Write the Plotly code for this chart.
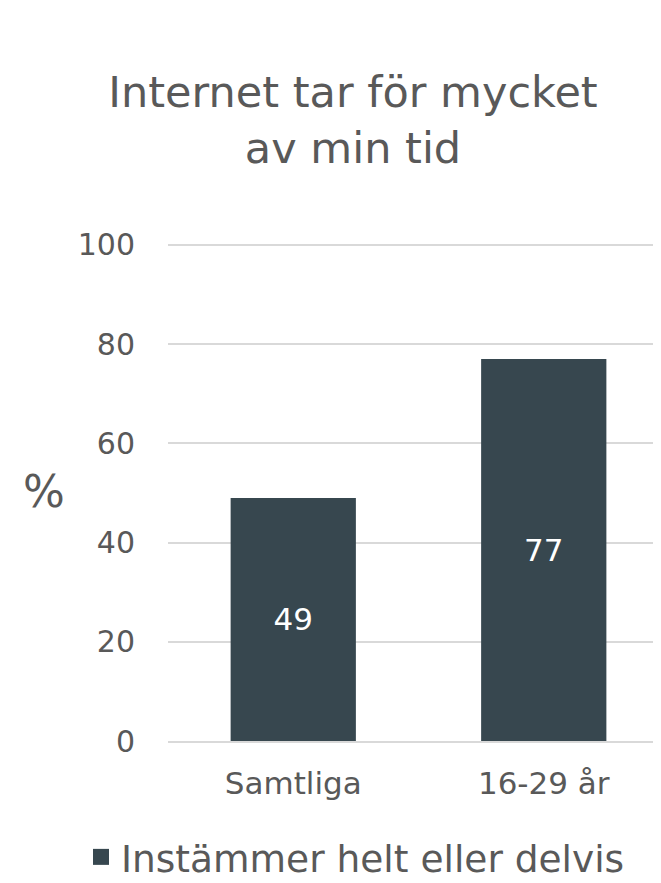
import plotly.graph_objects as go

categories = ["Samtliga", "16-29 år"]
values = [49, 77]
series_name = "Instämmer helt eller delvis"
title_text = "Internet tar för mycket<br>av min tid"
y_ticks = [0, 20, 40, 60, 80, 100]

W, H = 661, 883
L, R, T, B = 160, 0, 234, 883 - 733

FONT = "DejaVu Sans, Verdana, sans-serif"
GRAY = "#595959"
BAR = "#37474f"
GRID = "#d9d9d9"

fig = go.Figure()
fig.add_trace(go.Bar(
    x=categories, y=values, name=series_name,
    marker=dict(color=BAR, line=dict(width=0)),
    text=[str(v) for v in values], textposition="inside",
    insidetextanchor="middle",
    textfont=dict(color="white", size=31, family=FONT),
    showlegend=False,
))
# legend entry (square swatch) for the bar series
fig.add_trace(go.Scatter(
    x=[None], y=[None], mode="markers", name=series_name,
    marker=dict(symbol="square", size=20, color=BAR),
    showlegend=True, hoverinfo="skip",
))

fig.update_layout(
    width=W, height=H,
    margin=dict(l=L, r=R, t=T, b=B, pad=0),
    paper_bgcolor="white", plot_bgcolor="white",
    bargap=0.5,
    font=dict(family=FONT, color=GRAY, size=30),
    title=dict(text=title_text, x=345 / W, xref="container", xanchor="center",
               y=1 - 99 / H, yref="container", yanchor="middle",
               font=dict(size=43, color=GRAY, family=FONT)),
    showlegend=True,
    legend=dict(orientation="h", xref="container", x=73 / W, xanchor="left",
                yref="container", y=1 - 849 / H, yanchor="middle",
                font=dict(size=37.5, color=GRAY, family=FONT),
                bgcolor="rgba(0,0,0,0)"),
    xaxis=dict(showgrid=False, showline=True, linecolor=GRID, linewidth=2,
               ticks="", tickfont=dict(size=31, color=GRAY),
               ticklabelstandoff=14, range=[-0.5, 1.5]),
    yaxis=dict(range=[0, 100.6], tickvals=y_ticks, showgrid=True,
               gridcolor=GRID, gridwidth=2, zeroline=False,
               showline=False, ticks="", tickfont=dict(size=30, color=GRAY),
               ticklabelstandoff=32),
    annotations=[dict(text="%", xref="paper", yref="paper",
                      x=(36 - L) / (W - L), y=0.5, xanchor="center",
                      yanchor="middle", showarrow=False,
                      font=dict(size=44, color=GRAY, family=FONT))],
)

fig.write_html("out.html")
